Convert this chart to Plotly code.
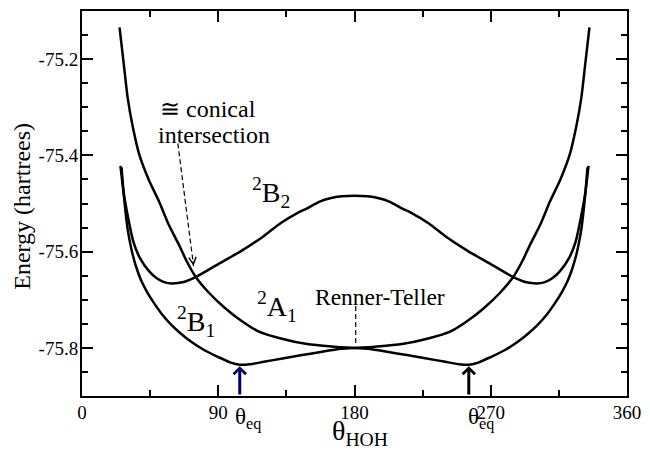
import plotly.graph_objects as go

# ---------------- data ----------------
theta_A1 = [24.8, 27.5, 30.2, 33.5, 37.8, 44.0, 50.9, 57.0, 63.9, 69.0, 74.8, 84.0, 94.4, 105.0,
            116.1, 132.0, 148.7, 165.0, 180.0, 195.0, 211.3, 228.0, 243.9, 255.0, 265.6, 276.0,
            285.2, 291.0, 296.1, 303.0, 309.1, 316.0, 322.2, 326.5, 329.8, 332.5, 335.2]
energy_A1 = [-75.134, -75.208, -75.281, -75.340, -75.398, -75.450, -75.496, -75.542, -75.585,
             -75.619, -75.651, -75.686, -75.717, -75.743, -75.765, -75.781, -75.792, -75.797,
             -75.800, -75.797, -75.792, -75.781, -75.765, -75.743, -75.717, -75.686, -75.651,
             -75.619, -75.585, -75.542, -75.496, -75.450, -75.398, -75.340, -75.281, -75.208,
             -75.134]

theta_B2 = [25.4, 27.4, 30.5, 33.9, 38.2, 44.4, 49.6, 54.8, 59.4, 67.2, 75.0, 90.0, 105.0, 120.0,
            131.1, 142.2, 148.7, 157.0, 163.9, 171.5, 180.0, 188.5, 196.1, 203.0, 211.3, 217.8,
            228.9, 240.0, 255.0, 270.0, 285.0, 292.8, 300.6, 305.2, 310.4, 315.6, 321.8, 326.1,
            329.5, 332.6, 334.6]
energy_B2 = [-75.422, -75.475, -75.530, -75.579, -75.613, -75.641, -75.656, -75.664, -75.666,
             -75.663, -75.653, -75.626, -75.599, -75.568, -75.541, -75.520, -75.510, -75.496,
             -75.489, -75.485, -75.484, -75.485, -75.489, -75.496, -75.510, -75.520, -75.541,
             -75.568, -75.599, -75.626, -75.653, -75.663, -75.666, -75.664, -75.656, -75.641,
             -75.613, -75.579, -75.530, -75.475, -75.422]

theta_B1 = [26.1, 27.4, 28.7, 30.0, 31.3, 33.3, 35.9, 39.1, 43.0, 47.6, 52.8, 58.7, 65.2, 72.4,
            80.9, 90.0, 97.8, 104.3, 110.9, 120.0, 132.4, 145.4, 158.5, 171.5, 180.0, 188.5,
            201.5, 214.6, 227.6, 240.0, 249.1, 255.7, 262.2, 270.0, 279.1, 287.6, 294.8, 301.3,
            307.2, 312.4, 317.0, 320.9, 324.1, 326.7, 328.7, 330.0, 331.3, 332.6, 333.9]
energy_B1 = [-75.425, -75.475, -75.516, -75.550, -75.574, -75.604, -75.633, -75.660, -75.684,
             -75.707, -75.730, -75.751, -75.770, -75.788, -75.805, -75.819, -75.830, -75.835,
             -75.834, -75.829, -75.822, -75.815, -75.808, -75.802, -75.800, -75.802, -75.808,
             -75.815, -75.822, -75.829, -75.834, -75.835, -75.830, -75.819, -75.805, -75.788,
             -75.770, -75.751, -75.730, -75.707, -75.684, -75.660, -75.633, -75.604, -75.574,
             -75.550, -75.516, -75.475, -75.425]

x_major_vals = [0, 90, 180, 270, 360]
x_major_text = ["0", "90", "180", "270", "360"]
x_minor_vals = [45, 135, 225, 315]
y_major_vals = [-75.8, -75.6, -75.4, -75.2]
y_major_text = ["-75.8", "-75.6", "-75.4", "-75.2"]
y_minor_vals = [-75.85, -75.75, -75.7, -75.65, -75.55, -75.5, -75.45, -75.35, -75.3, -75.25, -75.15]

theta_eq = [104.2, 255.5]          # equilibrium angles marked by arrows
theta_eq_energy = -75.838
arrow_colors = ["#000070", "black"]

# annotation anchor positions (data units)
conical_tail = (63.3, -75.375)
conical_tip = (73.7, -75.630)
renner_tail = (180.8, -75.713)
renner_tip = (180.8, -75.793)

FONT = "Liberation Serif"

fig = go.Figure()
for th, en in [(theta_A1, energy_A1), (theta_B2, energy_B2), (theta_B1, energy_B1)]:
    fig.add_trace(go.Scatter(x=th, y=en, mode="lines",
                             line=dict(color="black", width=2.5, shape="spline", smoothing=0.6),
                             hoverinfo="skip"))

axis_common = dict(showline=True, linewidth=2, linecolor="black", mirror="ticks",
                   ticks="inside", ticklen=11, tickwidth=1.5, tickcolor="black",
                   showgrid=False, zeroline=False,
                   tickfont=dict(family=FONT, size=19, color="black"))

fig.update_xaxes(range=[0, 360], tickmode="array", tickvals=x_major_vals, ticktext=x_major_text,
                 ticklabelstandoff=-2,
                 minor=dict(tickmode="array", tickvals=x_minor_vals, ticks="inside", ticklen=6,
                            tickwidth=1.5, tickcolor="black", showgrid=False),
                 **axis_common)
fig.update_yaxes(range=[-75.9, -75.1], tickmode="array", tickvals=y_major_vals, ticktext=y_major_text,
                 ticklabelstandoff=-2,
                 minor=dict(tickmode="array", tickvals=y_minor_vals, ticks="inside", ticklen=6,
                            tickwidth=1.5, tickcolor="black", showgrid=False),
                 **axis_common)

ann = []
def txt(text, x, y, size, xref="x", yref="y", angle=0):
    ann.append(dict(text=text, x=x, y=y, xref=xref, yref=yref, showarrow=False,
                    xanchor="center", yanchor="middle", textangle=angle,
                    font=dict(family=FONT, size=size, color="black")))

txt("\u2245 conical", 83.5, -75.303, 24)
txt("intersection", 87.0, -75.358, 24)
txt("Renner-Teller", 196.8, -75.694, 23.5)
txt("<sup>2</sup>B<sub>2</sub>", 125.0, -75.478, 28)
txt("<sup>2</sup>A<sub>1</sub>", 129.0, -75.715, 28)
txt("<sup>2</sup>B<sub>1</sub>", 75.0, -75.745, 28)
txt("\u03b8<sub>eq</sub>", 109.6, -0.058, 23, yref="paper")
txt("\u03b8<sub>eq</sub>", 263.5, -0.058, 23, yref="paper")
txt("\u03b8<sub>HOH</sub>", 183.5, -0.096, 28, yref="paper")
txt("Energy (hartrees)", -0.1105, 0.4935, 24, xref="paper", yref="paper", angle=-90)

# equilibrium arrows (thick, from the axis up to the minima)
for th, col in zip(theta_eq, arrow_colors):
    ann.append(dict(x=th, y=theta_eq_energy, ax=th, ay=-75.9, xref="x", yref="y",
                    axref="x", ayref="y", text="", showarrow=True, arrowhead=4,
                    arrowsize=0.8, arrowwidth=3, arrowcolor=col))

# dashed pointer arrows: dashed line shape + arrow head annotation
shapes = []
for tail, tip in [(conical_tail, conical_tip), (renner_tail, renner_tip)]:
    shapes.append(dict(type="line", xref="x", yref="y", x0=tail[0], y0=tail[1],
                       x1=tip[0], y1=tip[1], line=dict(color="black", width=1.2, dash="5px,3px")))
    fx = tip[0] - (tip[0] - tail[0]) * 0.05
    fy = tip[1] - (tip[1] - tail[1]) * 0.05
    ann.append(dict(x=tip[0], y=tip[1], ax=fx, ay=fy, xref="x", yref="y", axref="x", ayref="y",
                    text="", showarrow=True, arrowhead=5, arrowsize=1.2, arrowwidth=1.2,
                    arrowcolor="black"))

fig.update_layout(width=650, height=451, margin=dict(l=82, r=16, t=9, b=55),
                  plot_bgcolor="white", paper_bgcolor="white", showlegend=False,
                  font=dict(family=FONT, color="black"), annotations=ann, shapes=shapes)

fig.write_html("out.html", config={"displayModeBar": False},
               post_script="document.body.style.margin='0px';")
